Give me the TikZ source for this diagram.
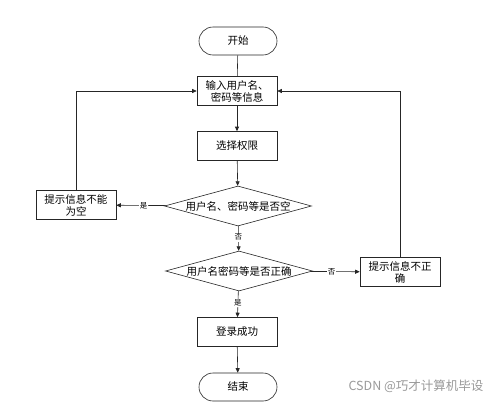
\documentclass[tikz,border=0pt]{standalone}
\usepackage{fontspec}
\setmainfont{Noto Sans CJK SC}
\usetikzlibrary{shapes.geometric,arrows.meta}
\begin{document}
\begin{tikzpicture}[x=1pt,y=-1pt,
  line/.style={draw=black!85,line width=0.6pt},
  arr/.style={line,-{Triangle[length=4.5pt,width=4pt]}},
  proc/.style={rectangle,draw=black!85,line width=0.6pt,minimum width=80pt,minimum height=29pt,inner sep=1pt,align=center,font=\fontsize{10.5}{12}\selectfont},
  term/.style={rectangle,rounded corners=14pt,draw=black!85,line width=0.6pt,minimum width=78pt,minimum height=28pt,inner sep=1pt,font=\fontsize{10.5}{12}\selectfont},
  dec/.style={diamond,draw=black!85,line width=0.6pt,minimum width=147pt,minimum height=40pt,inner sep=0pt,font=\fontsize{10.5}{12}\selectfont},
  lab/.style={fill=white,inner sep=1pt,font=\fontsize{7.5}{9}\selectfont}]
\fill[white] (0,0) rectangle (499,407);
\node[term] (start) at (238,41) {开始};
\node[proc] (input) at (237,91) {输入用户名、\\密码等信息};
\node[proc] (sel) at (237,146) {选择权限};
\node[dec] (d1) at (238,206) {\makebox[0pt]{用户名、密码等是否空}};
\node[proc] (empty) at (76,205) {提示信息不能\\为空};
\node[dec] (d2) at (239,271) {\makebox[0pt]{用户名密码等是否正确}};
\node[proc] (wrong) at (400,272) {提示信息不正\\确};
\node[proc] (ok) at (237,332) {登录成功};
\node[term] (end) at (238,387) {结束};
\node[text=black!40,font=\fontsize{12.5}{14}\selectfont] (wm) at (416,386) {CSDN @巧才计算机毕设};

\draw[line] (start) -- (input);
\draw[arr] (input) -- (sel);
\draw[arr] (sel) -- (d1);
\draw[arr] (d1) -- node[lab,pos=0.45] {是} (empty);
\draw[arr] (d1) -- node[lab,pos=0.45] {否} (d2);
\draw[arr] (d2) -- node[lab,pos=0.42] {否} (wrong);
\draw[arr] (d2) -- node[lab,pos=0.45] {是} (ok);
\draw[arr] (ok) -- (end);
\draw[arr] (empty.north) |- (input.west);
\draw[arr] (wrong.north) |- (input.east);
\end{tikzpicture}
\end{document}
